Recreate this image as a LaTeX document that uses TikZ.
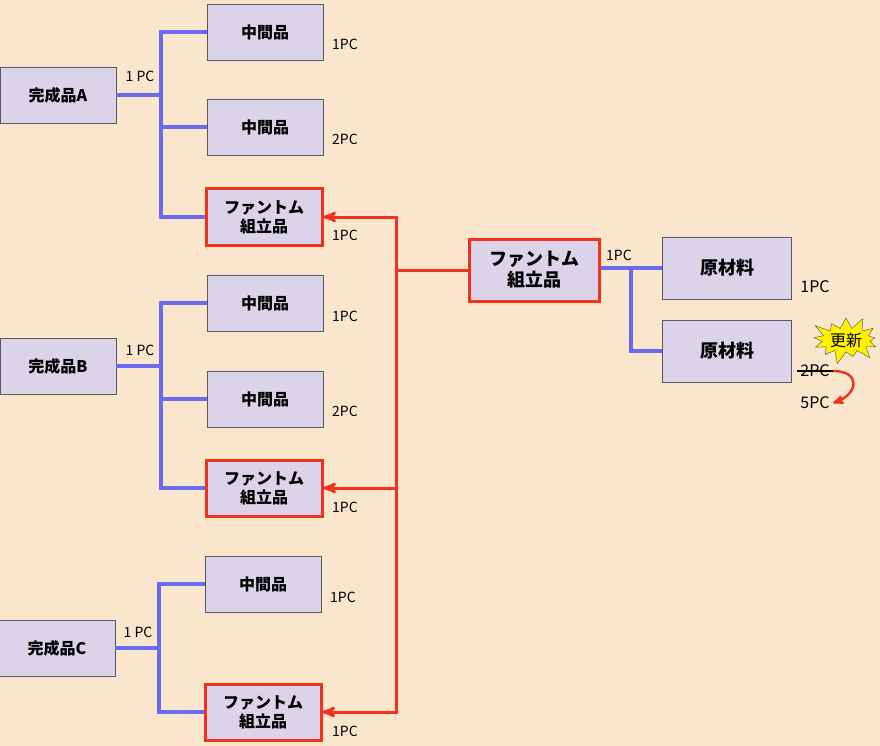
\documentclass[tikz,border=0pt]{standalone}
\usepackage{fontspec}
\newfontfamily\cjk{Noto Sans CJK JP}
\usetikzlibrary{arrows,shapes.symbols}
\definecolor{bgcol}{HTML}{F9E6CC}
\definecolor{boxfill}{HTML}{DBD3EA}
\definecolor{bluel}{HTML}{6B6BF0}
\definecolor{redl}{HTML}{F0321E}
\begin{document}
\begin{tikzpicture}[x=1pt,y=-1pt,font=\cjk\fontsize{14}{16}\selectfont,
                    >=stealth']
  \tikzstyle{item}=[draw=gray!70!black,fill=boxfill,minimum width=116pt,minimum height=56pt,inner sep=1pt,align=center,line width=0.6pt,font=\cjk\bfseries\fontsize{16}{19}\selectfont]
  \tikzstyle{phantom}=[item,draw=redl,line width=3pt]
  \tikzstyle{blue link}=[draw=bluel,line width=3.4pt]
  \tikzstyle{red link}=[draw=redl,line width=3pt]

  \fill[bgcol] (0,0) rectangle (880,746);
  \useasboundingbox (0,0) rectangle (880,746);

  \node[item] (A)  at (58,95)  {完成品A};
  \node[item] (A1) at (265,32) {中間品};
  \node[item] (A2) at (265,127) {中間品};
  \node[phantom] (A3) at (264,217) {ファントム\\組立品};
  \node[item] (B)  at (58,366)  {完成品B};
  \node[item] (B1) at (265,303) {中間品};
  \node[item] (B2) at (265,399) {中間品};
  \node[phantom] (B3) at (264,488) {ファントム\\組立品};
  \node[item] (C)  at (57,648)  {完成品C};
  \node[item] (C1) at (263,584) {中間品};
  \node[phantom] (C3) at (263,712) {ファントム\\組立品};
  \node[phantom,minimum width=130pt,minimum height=62pt,font=\cjk\bfseries\fontsize{18}{21}\selectfont] (P) at (534,270) {ファントム\\組立品};
  \node[item,minimum width=129pt,minimum height=62pt,font=\cjk\bfseries\fontsize{18}{21}\selectfont] (R1) at (727,268) {原材料};
  \node[item,minimum width=129pt,minimum height=62pt,font=\cjk\bfseries\fontsize{18}{21}\selectfont] (R2) at (727,351) {原材料};

  % blue trees
  \coordinate (ta) at (161,95);
  \coordinate (tb) at (161,366);
  \coordinate (tc) at (159,648);
  \path[blue link] (A.east) -- (ta) (A1.west) -| (ta) |- (A3.west) (ta) |- (A2.west);
  \path[blue link] (B.east) -- (tb) (B1.west) -| (tb) |- (B3.west) (tb) |- (B2.west);
  \path[blue link] (C.east) -- (tc) (C1.west) -| (tc) |- (C3.west);
  \coordinate (tp) at (631,268);
  \path[blue link] (P.east |- R1.west) -- (R1.west) (tp) |- (R2.west);

  % red links
  \coordinate (tr) at (396,270);
  \path[red link] (P.west) -- (tr);
  \path[red link,->] (tr) |- (A3.east);
  \path[red link,->] (tr) |- (B3.east);
  \path[red link,->] (tr) |- (C3.east);

  % quantities
  \node (qa) at (140,76) {1 PC};
  \node (qb) at (140,350) {1 PC};
  \node (qc) at (138,632) {1 PC};
  \node (q1) at (345,44) {1PC};
  \node (q2) at (345,139) {2PC};
  \node (q3) at (345,235) {1PC};
  \node (q4) at (345,316) {1PC};
  \node (q5) at (345,411) {2PC};
  \node (q6) at (345,507) {1PC};
  \node (q7) at (343,597) {1PC};
  \node (q8) at (345,731) {1PC};
  \node (qp) at (619,255) {1PC};
  \node[font=\cjk\fontsize{16}{19}\selectfont] (qr1) at (815,287) {1PC};
  \node[font=\cjk\fontsize{16}{19}\selectfont] (old) at (815,371) {2PC};
  \draw[line width=1.5pt] (old.west) -- (old.east);
  \node[font=\cjk\fontsize{16}{19}\selectfont] (new) at (815,403) {5PC};
  \draw[red link,->,line width=2.4pt] (old.east) to[out=0,in=20,looseness=2.2] (new.east);

  \node[starburst,fill=yellow,draw=gray!60!black,minimum width=64pt,minimum height=50pt,inner sep=1pt,starburst points=13,font=\cjk\fontsize{16}{19}\selectfont] (upd) at (846,340) {更新};
\end{tikzpicture}
\end{document}
